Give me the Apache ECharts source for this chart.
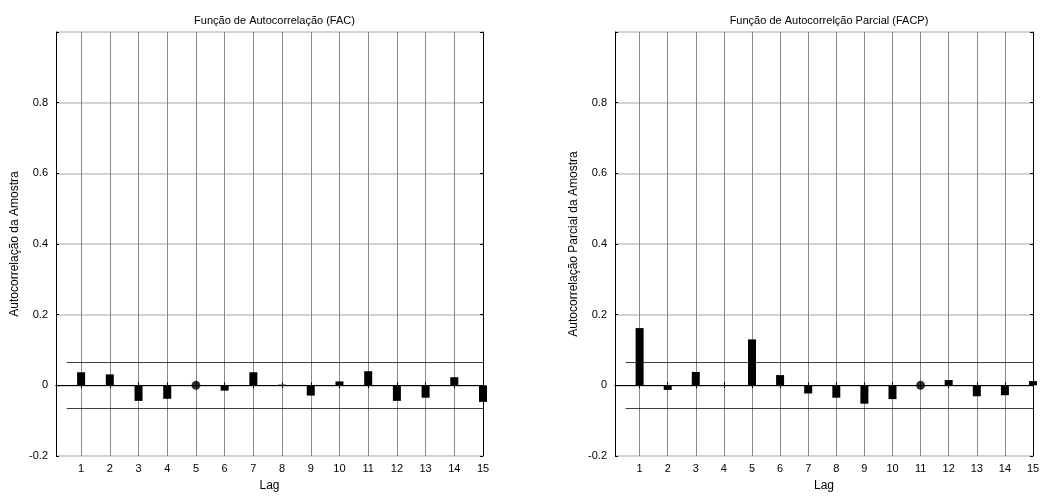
<!DOCTYPE html>
<html>
<head>
<meta charset="utf-8">
<script src="https://cdn.jsdelivr.net/npm/echarts@6/dist/echarts.min.js"></script>
<style>
  html, body { margin: 0; padding: 0; background: #fff; }
  #chart { width: 1052px; height: 498px; }
</style>
</head>
<body>
<div id="chart"></div>
<script>
// Lags shown on both panels
const lags = [1, 2, 3, 4, 5, 6, 7, 8, 9, 10, 11, 12, 13, 14, 15];

// Sample autocorrelation (FAC) by lag
const facValues = [0.037, 0.031, -0.044, -0.038, 0, -0.015, 0.037, 0.002, -0.029, 0.011, 0.040, -0.044, -0.035, 0.023, -0.047];

// Sample partial autocorrelation (FACP) by lag
const facpValues = [0.162, -0.013, 0.038, -0.001, 0.130, 0.029, -0.023, -0.035, -0.052, -0.039, 0, 0.015, -0.031, -0.028, 0.012];

// Confidence bounds (upper, lower)
const facBounds = [0.064, -0.064];
const facpBounds = [0.065, -0.064];

// Y tick labels
const yTicks = [-0.2, 0, 0.2, 0.4, 0.6, 0.8];

const titles = ['Função de Autocorrelação (FAC)', 'Função de Autocorrelção Parcial (FACP)'];
const yNames = ['Autocorrelação da Amostra', 'Autocorrelação Parcial da Amostra'];
const xName = 'Lag';

const FONT = 'Liberation Sans, Arial, sans-serif';
const grids = [
  { left: 56, top: 32, width: 427, height: 424 },
  { left: 615, top: 32, width: 418, height: 424 }
];

const xMin = 0.125, xMax = 15;

function fmtY(v) {
  const r = Math.round(v * 10) / 10;
  return yTicks.indexOf(r) >= 0 ? String(r) : '';
}

const xAxes = [], yAxes = [], series = [], title = [];

[0, 1].forEach(function (g) {
  const values = g === 0 ? facValues : facpValues;
  const bounds = g === 0 ? facBounds : facpBounds;

  title.push({
    text: titles[g],
    left: grids[g].left + grids[g].width / 2,
    top: 10,
    textAlign: 'center',
    textStyle: { fontFamily: FONT, fontSize: 11, fontWeight: 'normal', color: '#000' }
  });

  // bottom x axis
  xAxes.push({
    gridIndex: g, type: 'value', position: 'bottom', min: xMin, max: xMax,
    name: xName, nameLocation: 'middle', nameGap: 24,
    nameTextStyle: { fontFamily: FONT, fontSize: 12, color: '#000' },
    axisLine: { lineStyle: { color: '#000', width: 1 } },
    axisTick: { inside: true, length: 3, customValues: lags, lineStyle: { color: '#000' } },
    axisLabel: { customValues: lags, margin: 7, fontFamily: FONT, fontSize: 11, color: '#000' },
    splitLine: { show: true, lineStyle: { color: '#8a8a8a', width: 1 } }
  });
  // top x axis (box edge)
  xAxes.push({
    gridIndex: g, type: 'value', position: 'top', min: xMin, max: xMax,
    axisLine: { lineStyle: { color: '#000', width: 1 } },
    axisTick: { inside: true, length: 3, customValues: lags, lineStyle: { color: '#000' } },
    axisLabel: { show: false, customValues: lags },
    splitLine: { show: false }
  });
  // left y axis
  yAxes.push({
    gridIndex: g, type: 'value', position: 'left', min: -0.2, max: 1, interval: 0.2,
    name: yNames[g], nameLocation: 'middle', nameGap: 35,
    nameTextStyle: { fontFamily: FONT, fontSize: 12, color: '#000' },
    axisLine: { show: true, lineStyle: { color: '#000', width: 1 } },
    axisTick: { show: true, inside: true, length: 3, lineStyle: { color: '#000' } },
    axisLabel: { formatter: fmtY, margin: 8, fontFamily: FONT, fontSize: 11, color: '#000' },
    splitLine: { show: true, lineStyle: { color: '#c4c4c4', width: 1.5 } }
  });
  // right y axis (box edge)
  yAxes.push({
    gridIndex: g, type: 'value', position: 'right', min: -0.2, max: 1, interval: 0.2,
    axisLine: { show: true, lineStyle: { color: '#000', width: 1 } },
    axisTick: { show: true, inside: true, length: 3, lineStyle: { color: '#000' } },
    axisLabel: { show: false },
    splitLine: { show: false }
  });

  const xi = g * 2, yi = g * 2;

  series.push({
    type: 'bar',
    xAxisIndex: xi, yAxisIndex: yi,
    data: lags.map(function (l, i) { return [l, values[i]]; }),
    barWidth: 8,
    itemStyle: { color: '#000' },
    clip: true,
    silent: true,
    z: 3,
    markLine: {
      silent: true,
      symbol: 'none',
      label: { show: false },
      animation: false,
      data: [
        [{ coord: [0.5, bounds[0]] }, { coord: [xMax, bounds[0]] }],
        [{ coord: [0.5, bounds[1]] }, { coord: [xMax, bounds[1]] }],
        [{ coord: [xMin, 0] }, { coord: [xMax, 0] }]
      ],
      lineStyle: { color: '#000', width: 1, type: 'solid', opacity: 0.75 }
    }
  });

  // zero-valued lags drawn as dots
  series.push({
    type: 'scatter',
    xAxisIndex: xi, yAxisIndex: yi,
    data: lags.filter(function (l, i) { return values[i] === 0; })
              .map(function (l) { return [l, 0]; }),
    symbol: 'circle', symbolSize: 9,
    itemStyle: { color: '#000' },
    silent: true,
    z: 4
  });
});

const chart = echarts.init(document.getElementById('chart'), null, { renderer: 'canvas' });
chart.setOption({
  animation: false,
  backgroundColor: '#fff',
  title: title,
  grid: grids,
  xAxis: xAxes,
  yAxis: yAxes,
  series: series
});
</script>
</body>
</html>
